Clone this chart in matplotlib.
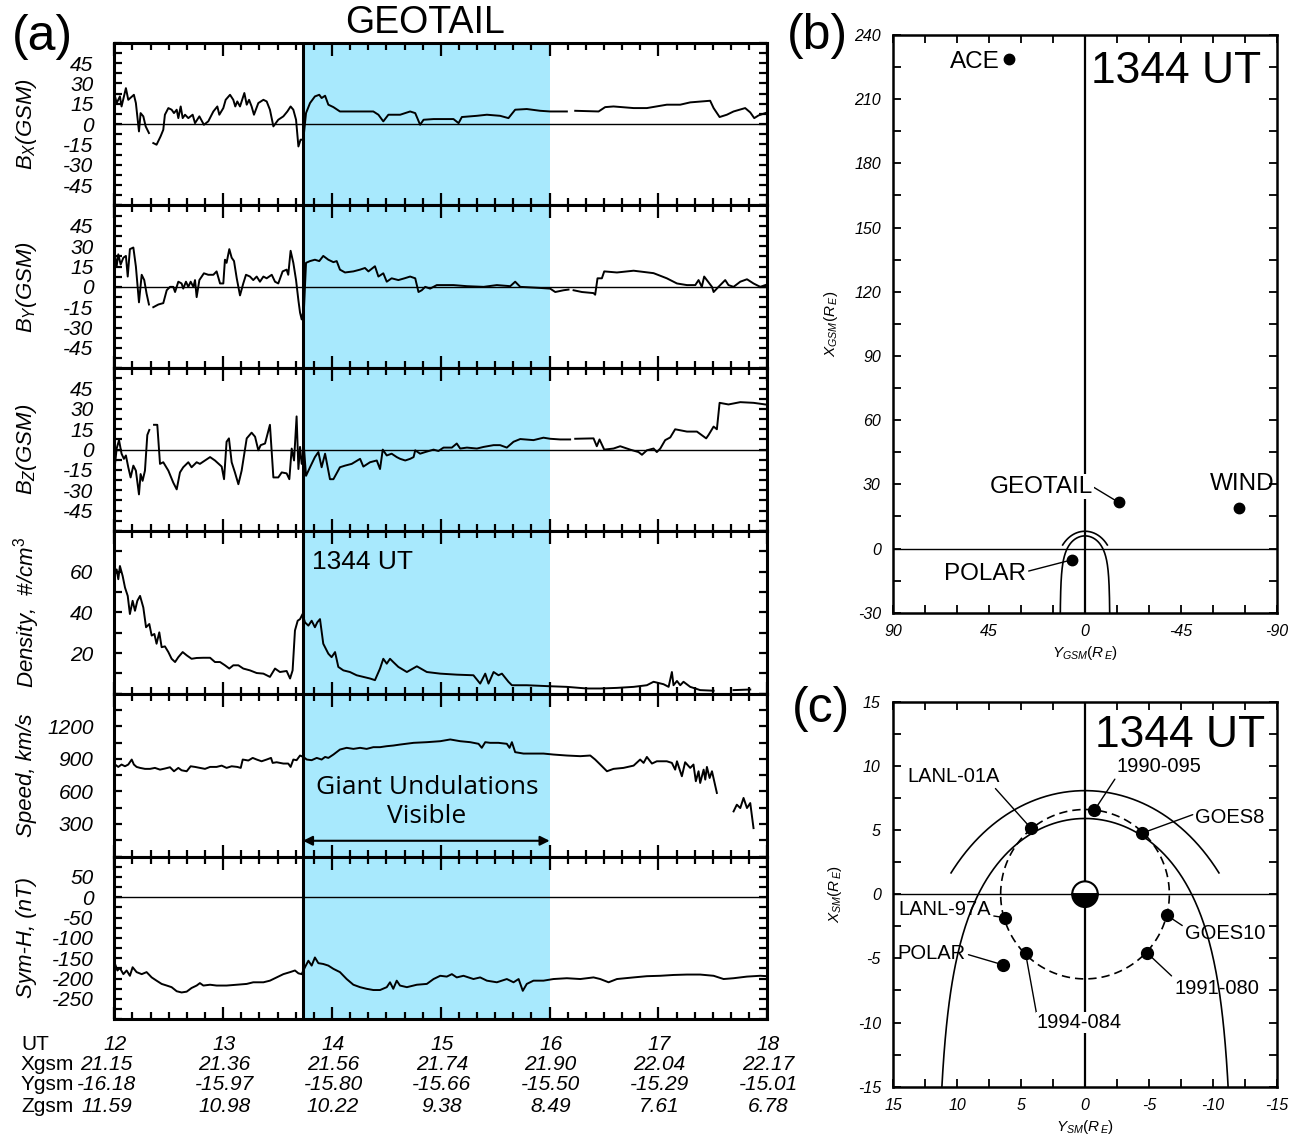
import numpy as np
import matplotlib.pyplot as plt
from matplotlib.patches import Wedge
from matplotlib.ticker import MultipleLocator
from matplotlib.transforms import blended_transform_factory

plt.rcParams['font.family'] = ['Liberation Sans', 'DejaVu Sans']
plt.rcParams['mathtext.fontset'] = 'custom'
plt.rcParams['mathtext.rm'] = 'Liberation Sans'
plt.rcParams['mathtext.it'] = 'Liberation Sans:italic'
plt.rcParams['mathtext.bf'] = 'Liberation Sans:bold'
plt.rcParams['axes.unicode_minus'] = False

nan = np.nan

# ---- GEOTAIL traces: (minutes after 12 UT, value) ----
bx_trace = np.array([
    (0.4, 20.4), (1.3, 15.5), (3.1, 20.4), (4.0, 13.0), (6.4, 26.5), (7.7, 17.9), (10.8, 21.6),
    (11.9, 15.5), (13.6, -5.4), (14.5, 8.1), (16.0, 5.7), (17.3, -1.7), (19.1, -6.6), (20.3, nan),
    (21.5, -14.0), (23.3, -15.2), (25.5, -9.1), (27.0, -4.2), (27.9, 6.9), (29.8, 11.8), (31.6, 10.6),
    (32.9, 8.1), (34.4, 10.6), (35.3, 4.4), (36.6, 13.0), (37.7, 4.4), (39.0, 6.9), (40.8, 4.4),
    (43.2, 6.9), (44.5, 0.7), (46.9, 5.7), (49.4, -0.5), (51.8, 2.0), (54.6, 9.3), (56.8, 13.0),
    (57.9, 6.9), (60.1, 11.8), (61.4, 17.9), (63.8, 21.6), (65.6, 17.9), (66.7, 13.0), (67.8, 16.7),
    (69.3, 13.0), (71.7, 22.9), (73.0, 14.3), (74.3, 17.9), (75.7, 13.0), (77.0, 6.9), (79.4, 15.5),
    (82.2, 17.9), (84.0, 16.7), (85.8, 10.6), (87.7, -1.7), (90.4, 3.2), (93.2, 5.7), (95.4, 9.3),
    (97.2, 13.0), (98.7, 10.6), (100.2, 3.2), (101.5, -16.5), (102.7, -11.5), (104.2, -11.5),
    (105.7, 8.1), (107.9, 15.5), (110.6, 20.4), (113.0, 21.6), (114.3, 19.2), (116.2, 20.9),
    (118.0, 14.3), (120.8, 12.5), (124.4, 9.3), (128.1, 9.3), (135.5, 9.3), (142.8, 9.3),
    (145.6, 6.9), (148.3, 2.0), (151.1, 6.9), (157.6, 6.9), (163.1, 9.3), (165.9, 8.1),
    (168.6, -0.5), (170.5, 3.2), (176.0, 3.7), (187.0, 3.7), (189.8, 0.7), (191.6, 5.2),
    (199.9, 6.1), (205.4, 6.9), (212.7, 6.1), (217.3, 4.4), (221.0, 10.6), (227.4, 11.1),
    (234.8, 9.8), (240.3, 9.3), (249.5, 9.3), (252.0, nan), (254.1, 9.8), (267.0, 9.3),
    (270.6, 12.5), (275.2, 13.0), (286.3, 11.8), (293.6, 11.8), (304.6, 14.3), (312.0, 14.3),
    (317.5, 16.0), (328.5, 17.2), (330.4, 11.8), (333.7, 5.2), (337.7, 6.9), (341.4, 9.3),
    (347.8, 11.8), (350.6, 8.6), (352.8, 4.4), (355.2, 6.4), (358.9, 8.1)])

by_trace = np.array([
    (0.4, 22.8), (1.3, 15.2), (2.2, 24.0), (3.5, 16.5), (5.0, 21.5), (6.4, 22.8), (7.4, 7.6),
    (8.6, 27.8), (10.5, 29.0), (11.9, 15.0), (13.6, -11.4), (15.1, 8.9), (16.5, 5.0), (17.8, -5.0),
    (19.1, -13.0), (20.3, nan), (21.5, -15.0), (24.3, -13.0), (27.0, -12.0), (28.9, -2.5),
    (30.7, 0.0), (32.5, 0.0), (33.5, -3.8), (35.3, 3.8), (37.1, 2.5), (38.0, -1.3), (39.5, 3.8),
    (40.8, 0.0), (42.1, 3.8), (43.6, 0.0), (44.5, 5.0), (45.4, -7.6), (46.9, 5.0), (49.4, 10.0),
    (51.8, 8.9), (54.6, 8.9), (56.4, 11.4), (58.3, 2.5), (60.1, 2.5), (61.0, 20.0), (61.9, 17.7),
    (63.4, 27.8), (64.7, 21.5), (66.0, 19.0), (67.5, 6.3), (69.3, -6.3), (71.1, 2.5), (72.6, 8.9),
    (74.8, 7.6), (76.6, 5.0), (78.5, 7.6), (80.3, 3.8), (82.2, 7.6), (84.0, 6.3), (86.8, 8.9),
    (88.6, 3.8), (90.4, 2.5), (92.8, 11.4), (95.0, 12.7), (95.9, 8.9), (97.2, 26.6), (98.7, 17.7),
    (100.2, 5.0), (101.5, -10.0), (102.4, -19.0), (103.3, -24.0), (104.6, -15.0), (105.7, 17.7),
    (107.9, 19.0), (110.6, 20.0), (113.0, 19.0), (115.2, 22.8), (118.0, 20.0), (120.8, 18.2),
    (122.6, 19.0), (124.4, 12.7), (127.2, 10.6), (131.8, 11.4), (135.5, 12.7), (138.2, 13.9),
    (140.1, 11.4), (143.7, 15.2), (145.6, 7.6), (148.3, 10.0), (150.2, 3.8), (152.9, 6.3),
    (156.6, 5.0), (160.0, 6.3), (163.1, 7.6), (165.9, 6.3), (167.7, -3.8), (169.5, -2.5),
    (171.4, 0.0), (174.1, -1.3), (177.8, 1.3), (187.0, 1.3), (194.4, 0.5), (203.6, 0.0),
    (210.9, 1.3), (218.3, 0.5), (221.0, 3.8), (223.8, 0.0), (234.8, -0.8), (240.3, -1.3),
    (243.1, -3.8), (247.7, -2.5), (250.4, -2.0), (251.8, nan), (253.2, -2.5), (257.8, -3.8),
    (264.2, -4.6), (265.1, -5.8), (266.4, 6.3), (268.8, 6.3), (270.1, 11.4), (277.1, 10.6),
    (286.3, 11.9), (297.3, 10.1), (304.6, 6.3), (310.2, 2.5), (315.7, 1.3), (320.3, 1.3),
    (322.1, 5.0), (323.9, 0.0), (325.2, 7.6), (329.5, 0.0), (330.4, -3.8), (333.1, 0.0),
    (336.8, 5.0), (338.6, 1.3), (341.4, 0.0), (345.1, 3.8), (348.8, 5.6), (352.4, 2.5),
    (356.1, 0.0), (358.9, 1.3)])

bz_trace = np.array([
    (0.4, -10.5), (1.3, 0.8), (2.6, 7.0), (4.0, -3.0), (5.3, -6.8), (6.4, -4.3), (7.7, -13.0),
    (9.0, -20.5), (10.5, -11.8), (11.9, -15.5), (13.6, -33.0), (14.5, -18.0), (15.6, -23.0),
    (16.9, -15.5), (18.2, 10.8), (19.3, 14.5), (20.5, nan), (21.9, 18.3), (23.7, 18.3),
    (25.2, -10.5), (27.0, -9.3), (29.8, -15.5), (32.5, -24.3), (34.4, -29.3), (36.2, -16.8),
    (38.0, -13.0), (40.8, -9.3), (42.6, -13.0), (45.4, -9.3), (47.2, -10.5), (50.0, -8.0),
    (52.8, -5.5), (55.5, -8.0), (59.2, -12.5), (60.5, -21.8), (61.9, 5.8), (63.2, 8.3),
    (64.7, -9.3), (66.5, -16.8), (68.4, -25.5), (70.2, -15.5), (73.0, 8.3), (75.7, 12.5),
    (77.6, 9.5), (79.4, -0.5), (80.7, 3.3), (83.1, 4.5), (85.8, 18.3), (87.7, -20.5),
    (90.4, -20.5), (92.3, -16.8), (95.0, -17.5), (96.5, -21.8), (97.8, 0.8), (99.1, -8.0),
    (100.5, 24.5), (101.5, -14.3), (102.4, 2.0), (103.3, -10.5), (104.6, 0.8), (105.7, -19.3),
    (107.9, -13.0), (110.6, -5.5), (112.5, -1.8), (114.3, -13.0), (116.2, -3.0), (118.9, -21.8),
    (120.8, -21.8), (124.4, -13.0), (127.2, -11.8), (130.9, -10.5), (135.5, -6.8), (137.3, -12.5),
    (141.0, -9.3), (144.7, -8.0), (146.5, -14.3), (148.0, 0.0), (150.2, -4.3), (152.9, -3.0),
    (155.7, -5.5), (157.6, -6.8), (160.4, -8.0), (163.1, -6.8), (165.0, -5.5), (165.9, -0.5),
    (168.6, -3.0), (171.4, -1.8), (176.0, 0.0), (178.7, -1.0), (181.5, 1.5), (186.1, 1.5),
    (188.8, 4.5), (190.7, 0.8), (194.4, 1.5), (199.9, 0.8), (203.6, 2.0), (209.1, 3.3),
    (212.7, 3.3), (216.4, 1.5), (220.1, 5.8), (223.8, 7.8), (231.1, 7.0), (236.6, 8.8),
    (240.3, 8.0), (245.8, 7.5), (251.3, 7.5), (252.6, nan), (254.1, 8.0), (264.2, 8.3),
    (266.0, 2.5), (267.5, 7.5), (270.1, 0.0), (275.2, 0.8), (278.9, 2.5), (284.4, 0.0),
    (289.0, -1.8), (290.9, -3.8), (293.6, -0.5), (297.3, 0.8), (299.1, -1.8), (301.0, 0.8),
    (303.7, 7.0), (306.5, 9.0), (309.2, 15.0), (315.7, 13.3), (321.2, 13.3), (326.3, 8.3),
    (327.6, 10.8), (330.4, 17.0), (332.2, 15.0), (333.7, 34.5), (338.6, 33.3), (345.1, 35.0),
    (352.4, 34.5), (358.9, 33.3)])

density_trace = np.array([
    (0.4, 58.7), (1.3, 61.1), (2.2, 56.3), (3.1, 62.8), (4.6, 57.9), (5.9, 52.2), (7.4, 48.1),
    (8.6, 39.2), (10.1, 45.7), (11.4, 40.8), (12.7, 45.7), (14.2, 48.1), (16.0, 42.4), (17.5, 32.7),
    (19.3, 34.3), (20.6, 28.6), (22.1, 29.4), (23.3, 24.6), (24.8, 30.2), (26.1, 22.9), (27.9, 23.3),
    (29.8, 20.5), (31.6, 17.2), (33.5, 15.6), (35.3, 18.0), (37.7, 20.5), (39.9, 18.9), (42.6, 17.2),
    (45.4, 17.6), (49.1, 17.7), (52.8, 17.7), (55.5, 15.6), (58.3, 15.6), (61.0, 14.0), (63.4, 12.4),
    (65.6, 14.0), (68.4, 14.0), (71.1, 12.4), (74.8, 11.5), (78.5, 10.2), (82.2, 9.9), (85.8, 8.3),
    (88.6, 12.4), (91.3, 10.7), (95.0, 11.2), (96.9, 7.5), (98.3, 11.5), (99.6, 31.1), (101.1, 35.9),
    (102.4, 36.7), (103.8, 39.2), (105.1, 35.1), (107.0, 33.5), (108.8, 35.9), (110.6, 32.7),
    (111.9, 35.1), (113.4, 36.7), (115.2, 24.6), (118.0, 19.7), (119.8, 18.0), (121.7, 20.5),
    (123.5, 13.2), (126.3, 11.5), (129.9, 10.7), (133.6, 9.1), (137.3, 8.3), (141.0, 7.5),
    (143.7, 6.7), (146.5, 12.4), (148.3, 17.2), (150.2, 14.8), (152.0, 17.2), (153.8, 15.6),
    (156.6, 13.2), (161.3, 10.7), (166.8, 13.5), (172.3, 10.7), (179.7, 9.9), (188.8, 9.4),
    (198.0, 9.1), (201.7, 5.0), (204.5, 9.9), (206.3, 5.0), (209.1, 10.7), (211.8, 9.1),
    (213.7, 9.9), (217.3, 5.9), (219.2, 4.2), (227.4, 4.2), (240.3, 3.7), (249.5, 3.4),
    (260.5, 2.6), (267.9, 2.6), (277.1, 2.9), (286.3, 3.4), (293.6, 4.2), (297.3, 5.9),
    (302.8, 4.7), (305.6, 3.4), (307.4, 10.7), (308.3, 4.2), (310.2, 6.3), (312.0, 4.2),
    (313.8, 5.9), (317.5, 3.4), (320.3, 2.6), (323.0, 1.8), (330.4, 1.5), (335.0, nan),
    (341.4, 1.8), (350.6, 2.1)])

speed_trace = np.array([
    (0.4, 848), (2.2, 826), (4.0, 848), (5.9, 832), (7.7, 848), (9.6, 894), (10.8, 848), (12.3, 826),
    (14.2, 817), (16.9, 808), (19.7, 808), (22.4, 817), (25.2, 801), (27.9, 811), (30.7, 823),
    (32.9, 786), (35.3, 817), (37.1, 795), (39.9, 786), (42.1, 832), (44.5, 826), (47.2, 817),
    (50.0, 808), (52.8, 826), (56.4, 826), (59.2, 838), (61.9, 817), (64.7, 832), (67.8, 826),
    (69.7, 817), (70.8, 894), (73.9, 885), (76.3, 909), (78.5, 894), (81.2, 878), (84.0, 894),
    (86.4, 909), (87.3, 863), (89.5, 869), (93.2, 857), (95.9, 857), (97.2, 826), (98.7, 894),
    (100.5, 888), (102.4, 931), (104.2, 918), (106.1, 894), (108.8, 888), (111.6, 909),
    (114.3, 894), (116.2, 918), (118.0, 909), (120.8, 940), (124.4, 986), (128.1, 1002),
    (131.8, 992), (135.5, 1002), (139.1, 992), (142.8, 1008), (146.5, 1008), (150.2, 1017),
    (153.8, 1023), (157.5, 1032), (165.0, 1048), (172.3, 1054), (179.7, 1063), (185.2, 1079),
    (190.7, 1063), (196.2, 1054), (200.8, 1039), (202.6, 1002), (204.5, 1054), (207.2, 1048),
    (211.8, 1048), (216.4, 1039), (217.9, 1002), (219.2, 1054), (221.0, 962), (225.6, 949),
    (231.1, 949), (236.6, 949), (242.1, 940), (249.5, 931), (256.9, 925), (262.4, 931),
    (265.1, 894), (267.9, 848), (271.6, 786), (275.2, 808), (280.7, 817), (286.3, 838),
    (289.9, 894), (291.8, 863), (293.6, 918), (296.4, 857), (299.1, 878), (304.6, 878),
    (307.4, 863), (309.2, 801), (310.2, 878), (312.9, 740), (314.7, 869), (317.5, 817),
    (319.3, 848), (320.6, 694), (322.1, 786), (323.0, 678), (324.9, 801), (325.8, 709),
    (326.7, 826), (328.2, 724), (329.5, 786), (332.2, 586), (336.0, nan), (341.4, 416),
    (343.2, 478), (345.1, 447), (346.9, 540), (348.8, 447), (350.6, 493), (352.4, 262)])

symh_trace = np.array([
    (0.4, -164), (1.7, -180), (3.1, -174), (5.0, -189), (6.8, -180), (8.6, -193), (10.1, -172),
    (12.3, -184), (15.1, -189), (17.8, -184), (20.6, -197), (23.3, -205), (26.1, -213),
    (28.9, -217), (31.6, -221), (34.4, -231), (37.1, -234), (39.9, -232), (42.6, -223),
    (45.4, -217), (47.2, -211), (49.1, -217), (52.8, -215), (56.4, -217), (61.9, -217),
    (67.5, -215), (73.0, -213), (76.6, -209), (82.2, -209), (85.8, -205), (89.5, -197),
    (93.2, -189), (96.9, -184), (99.6, -180), (101.5, -187), (103.3, -189), (105.1, -172),
    (107.0, -156), (108.8, -168), (110.6, -148), (112.5, -162), (115.2, -164), (118.0, -168),
    (120.8, -176), (124.4, -184), (128.1, -201), (131.8, -215), (135.5, -221), (139.1, -225),
    (142.8, -228), (146.5, -228), (150.2, -221), (152.0, -209), (153.8, -225), (155.7, -205),
    (157.5, -217), (161.3, -221), (166.8, -215), (172.3, -213), (176.0, -201), (179.7, -193),
    (183.3, -195), (186.1, -189), (188.8, -197), (192.5, -193), (198.0, -201), (201.7, -197),
    (205.4, -205), (210.9, -209), (216.4, -201), (220.1, -209), (222.9, -201), (225.2, -230),
    (227.4, -213), (231.1, -205), (236.6, -205), (242.1, -201), (249.5, -199), (256.9, -201),
    (264.2, -197), (267.9, -201), (272.5, -209), (277.1, -201), (286.3, -197), (293.6, -194),
    (301.0, -193), (308.3, -191), (315.7, -190), (323.0, -190), (330.4, -193), (335.9, -201),
    (341.4, -199), (348.8, -195), (356.1, -193), (359.8, -194)])

event_ut = 13 + 44 / 60
shade_end = 16.0

# position table under panel (a)
ut_hours = [12, 13, 14, 15, 16, 17, 18]
xgsm = [21.15, 21.36, 21.56, 21.74, 21.90, 22.04, 22.17]
ygsm = [-16.18, -15.97, -15.80, -15.66, -15.50, -15.29, -15.01]
zgsm = [11.59, 10.98, 10.22, 9.38, 8.49, 7.61, 6.78]

# panel (b) spacecraft (Y_GSM, X_GSM)
b_names = ['ACE', 'GEOTAIL', 'WIND', 'POLAR']
b_y = [35.7, -15.8, -72.3, 6.2]
b_x = [228.6, 21.56, 18.8, -5.3]

# panel (c) spacecraft (Y_SM, X_SM)
c_names = ['1990-095', 'LANL-01A', 'GOES8', 'LANL-97A', 'GOES10', 'POLAR', '1994-084', '1991-080']
c_y = [-0.73, 4.23, -4.44, 6.27, -6.40, 6.40, 4.65, -4.88]
c_x = [6.53, 5.14, 4.75, -1.83, -1.64, -5.51, -4.60, -4.60]

# boundary models r = r0 (2 / (1 + cos t))^alpha
mp_r0, mp_alpha = 5.9, 0.5
bs_r0, bs_alpha = 8.07, 0.5
geo_radius = 6.6

W, H = 1304, 1136
fig = plt.figure(figsize=(W / 100, H / 100), dpi=100)


def fx(px):
    return px / W


def fy(py):
    return 1 - py / H


# ---------------- panel (a) ----------------
traces = [bx_trace, by_trace, bz_trace, density_trace, speed_trace, symh_trace]
ylabels = [r'$B_X$(GSM)', r'$B_Y$(GSM)', r'$B_Z$(GSM)', r'Density,  #/cm$^3$',
           'Speed, km/s', 'Sym-H, (nT)']
ylims = [(-60, 60), (-60, 60), (-60, 60), (0, 80), (0, 1500), (-300, 100)]
yticks = [range(-45, 46, 15)] * 3 + [[20, 40, 60], [300, 600, 900, 1200], range(-250, 51, 50)]
yminor = [7.5, 7.5, 7.5, 10, 150, 25]
zero_line = [True, True, True, False, False, True]

top, ph = 42.7, 162.77
axes_a = []
for i in range(6):
    ax = fig.add_axes([fx(114.3), fy(top + (i + 1) * ph), 653 / W, ph / H])
    axes_a.append(ax)
    t = 12 + traces[i][:, 0] / 60
    ax.axvspan(event_ut, shade_end, color='#a8e9fd', lw=0, zorder=0)
    if zero_line[i]:
        ax.axhline(0, color='black', lw=1.0, zorder=1)
    ax.plot(t, traces[i][:, 1], color='black', lw=1.4, zorder=2)
    ax.axvline(event_ut, color='black', lw=2.2, zorder=3)
    ax.set_xlim(12, 18)
    ax.set_ylim(*ylims[i])
    ax.xaxis.set_major_locator(MultipleLocator(1))
    ax.xaxis.set_minor_locator(MultipleLocator(1 / 6))
    ax.set_yticks(list(yticks[i]), labels=[str(v) for v in yticks[i]],
                  fontstyle='italic', fontsize=15)
    ax.yaxis.set_minor_locator(MultipleLocator(yminor[i]))
    ax.tick_params(which='both', direction='in', top=True, right=True,
                   labelbottom=False, width=1.6)
    ax.tick_params(axis='x', which='major', length=9)
    ax.tick_params(axis='x', which='minor', length=5)
    ax.tick_params(axis='y', which='both', length=6, pad=15)
    for s in ax.spines.values():
        s.set_linewidth(2.2)
    ax.text(-0.135, 0.5, ylabels[i], transform=ax.transAxes, rotation=90,
            ha='center', va='center', fontsize=16, fontstyle='italic')

fig.text(fx(425), fy(23), 'GEOTAIL', ha='center', va='center', fontsize=27)
fig.text(fx(42), fy(37), '(a)', ha='center', va='center', fontsize=36)

axes_a[3].text(0.302, 0.81, '1344 UT', transform=axes_a[3].transAxes,
               ha='left', va='center', fontsize=19)
sp = axes_a[4]
sp.text(0.479, 0.422, 'Giant Undulations', transform=sp.transAxes, ha='center',
        va='center', fontsize=19, family=['Open Sans', 'Liberation Sans'])
sp.text(0.479, 0.244, 'Visible', transform=sp.transAxes, ha='center',
        va='center', fontsize=19, family=['Open Sans', 'Liberation Sans'])
sp.annotate('', xy=(event_ut, 0.097), xytext=(shade_end, 0.097),
            xycoords=('data', 'axes fraction'), textcoords=('data', 'axes fraction'),
            arrowprops=dict(arrowstyle='<|-|>', color='black', lw=1.5,
                            mutation_scale=14, shrinkA=0, shrinkB=0))

# table under the plot
ax6 = axes_a[5]
trans = blended_transform_factory(ax6.transData, fig.transFigure)
rows = [('UT', [str(h) for h in ut_hours], 1045, 0.01),
        ('Xgsm', [f'{v:.2f}' for v in xgsm], 1065, -0.07),
        ('Ygsm', [f'{v:.2f}' for v in ygsm], 1085, -0.07),
        ('Zgsm', [f'{v:.2f}' for v in zgsm], 1106, -0.07)]
for name, vals, ypx, first_shift in rows:
    fig.text(fx(21), fy(ypx), name, ha='left', va='center', fontsize=15)
    for k, (h, v) in enumerate(zip(ut_hours, vals)):
        xpos = h + (first_shift if k == 0 else 0.01)
        ax6.text(xpos, fy(ypx), v, transform=trans, ha='center', va='center',
                 fontsize=15, fontstyle='italic')


def style_orbit_axes(ax, major, minor):
    ax.xaxis.set_major_locator(MultipleLocator(major[0]))
    ax.yaxis.set_major_locator(MultipleLocator(major[1]))
    ax.xaxis.set_minor_locator(MultipleLocator(minor))
    ax.yaxis.set_minor_locator(MultipleLocator(minor))
    ax.tick_params(which='both', direction='in', top=True, right=True, length=6,
                   width=1.3, labelsize=11.5)
    ax.tick_params(axis='y', pad=9)
    ax.tick_params(axis='x', pad=8)
    for lbl in ax.get_xticklabels() + ax.get_yticklabels():
        lbl.set_fontstyle('italic')
    for s in ax.spines.values():
        s.set_linewidth(1.8)


def boundary(r0, alpha, tmax_deg):
    th = np.radians(np.linspace(-tmax_deg, tmax_deg, 400))
    r = r0 * (2 / (1 + np.cos(th))) ** alpha
    return r * np.sin(th), r * np.cos(th)


# ---------------- panel (b) ----------------
axb = fig.add_axes([fx(893.3), fy(612.7), 383.4 / W, 577.7 / H])
axb.set_xlim(90, -90)
axb.set_ylim(-30, 240)
axb.axvline(0, color='black', lw=1.6, zorder=1)
axb.axhline(0, color='black', lw=1.0, zorder=1)
for r0, a, tm in [(mp_r0, mp_alpha, 168), (bs_r0, bs_alpha, 81)]:
    yy, xx = boundary(r0, a, tm)
    axb.plot(yy, xx, color='black', lw=1.2)
axb.plot(b_y, b_x, 'o', color='black', ms=7.5, zorder=5)
style_orbit_axes(axb, (45, 30), 15)
axb.set_xticks([90, 45, 0, -45, -90], labels=['90', '45', '0', '-45', '-90'],
               fontstyle='italic', fontsize=11.5)
b_text = {'ACE': (51.6, 227.4, None), 'GEOTAIL': (20.7, 28.8, (0.97, 0.6)),
          'WIND': (-73.7, 30.2, None), 'POLAR': (47.0, -11.9, (1.0, 0.6))}
for name, yy, xx in zip(b_names, b_y, b_x):
    ty, tx, rp = b_text[name]
    bbox = dict(fc='white', ec='none', pad=1) if name == 'GEOTAIL' else None
    if rp is None:
        axb.text(ty, tx, name, ha='center', va='center', fontsize=17.5)
    else:
        axb.annotate(name, xy=(yy, xx), xytext=(ty, tx), ha='center', va='center',
                     fontsize=17.5, bbox=bbox, zorder=4,
                     arrowprops=dict(arrowstyle='-', lw=1.0, color='black',
                                     relpos=rp, shrinkA=0, shrinkB=3))
axb.text(0.96, 0.937, '1344 UT', transform=axb.transAxes, ha='right', va='center',
         fontsize=32)
axb.set_xlabel(r'$Y_{GSM}(R_{\,E})$', fontsize=11, labelpad=4)
axb.set_ylabel(r'$X_{GSM}(R_{\,E})$', fontsize=11, labelpad=10)
fig.text(fx(817), fy(36), '(b)', ha='center', va='center', fontsize=36)

# ---------------- panel (c) ----------------
axc = fig.add_axes([fx(893.3), fy(1086.7), 383.4 / W, 385 / H])
axc.set_xlim(15, -15)
axc.set_ylim(-15, 15)
axc.axvline(0, color='black', lw=1.6, zorder=1)
axc.axhline(0, color='black', lw=1.0, zorder=1)
for r0, a, tm in [(mp_r0, mp_alpha, 168), (bs_r0, bs_alpha, 81)]:
    yy, xx = boundary(r0, a, tm)
    axc.plot(yy, xx, color='black', lw=1.2)
ang = np.linspace(0, 2 * np.pi, 300)
axc.plot(geo_radius * np.cos(ang), geo_radius * np.sin(ang), color='black', lw=1.2,
         linestyle=(0, (5, 3)))
axc.add_patch(Wedge((0, 0), 1.0, 0, 180, fc='white', ec='black', lw=1.5, zorder=6))
axc.add_patch(Wedge((0, 0), 1.0, 180, 360, fc='black', ec='black', lw=1.5, zorder=6))
axc.plot(c_y, c_x, 'o', color='black', ms=8.5, zorder=5)
style_orbit_axes(axc, (5, 5), 2.5)
c_text = {'1990-095': (-5.8, 9.92, (0.0, 0.0)), 'LANL-01A': (10.31, 9.19, (0.93, 0.0)),
          'GOES8': (-11.36, 5.98, (0.0, 0.7)), 'LANL-97A': (10.97, -1.2, (0.98, 0.2)),
          'GOES10': (-10.97, -3.03, (0.0, 0.8)), 'POLAR': (12.0, -4.65, (1.0, 0.5)),
          '1994-084': (0.47, -10.0, (0.0, 1.0)), '1991-080': (-10.31, -7.31, (0.0, 1.0))}
for name, yy, xx in zip(c_names, c_y, c_x):
    ty, tx, rp = c_text[name]
    bbox = dict(fc='white', ec='none', pad=0.5) if name == '1994-084' else None
    axc.annotate(name, xy=(yy, xx), xytext=(ty, tx), ha='center', va='center',
                 fontsize=14.5, bbox=bbox, zorder=4,
                 arrowprops=dict(arrowstyle='-', lw=1.0, color='black',
                                 relpos=rp, shrinkA=0, shrinkB=3))
axc.text(0.97, 0.912, '1344 UT', transform=axc.transAxes, ha='right', va='center',
         fontsize=32)
axc.set_xlabel(r'$Y_{SM}(R_{\,E})$', fontsize=11, labelpad=4)
axc.set_ylabel(r'$X_{SM}(R_{\,E})$', fontsize=11, labelpad=10)
fig.text(fx(821), fy(709), '(c)', ha='center', va='center', fontsize=36)

fig.savefig('out.png', dpi=100)
